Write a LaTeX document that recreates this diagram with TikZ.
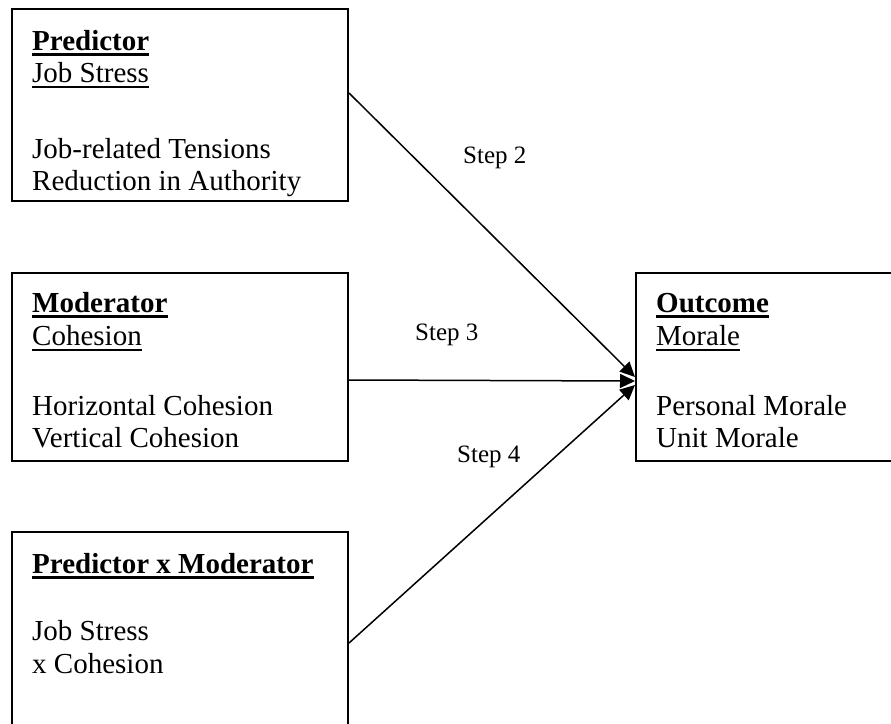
\documentclass[tikz,border=0pt]{standalone}
\usepackage{fontspec}
\setmainfont{Liberation Serif}
\usetikzlibrary{arrows.meta}
\tikzset{
  box/.style={draw, line width=2pt, rectangle, inner sep=0pt, anchor=north west},
  txt/.style={anchor=base west, inner sep=0pt, font=\fontsize{29}{33}\selectfont},
  hd/.style={txt, font=\fontsize{29}{33}\selectfont\bfseries},
  steplbl/.style={anchor=base west, inner sep=0pt, font=\fontsize{25}{29}\selectfont},
  ul/.style={line width=2pt},
  ulb/.style={line width=3pt},
  conn/.style={line width=1.5pt, -{Triangle[length=15pt,width=14pt]}}
}
\begin{document}
\begin{tikzpicture}[x=1pt,y=-1pt]
\useasboundingbox (0,0) rectangle (891,723);
\clip (0,0) rectangle (891,723);
\fill[white] (0,0) rectangle (891,723);
% boxes
\node[box, minimum width=336pt, minimum height=192pt] (b1) at (11,8) {};
\node[box, minimum width=336pt, minimum height=188pt] (b2) at (11,272) {};
\node[box, minimum width=336pt, minimum height=220pt] (b3) at (11,531) {};
\node[box, minimum width=280pt, minimum height=188pt] (b4) at (635,272) {};
% box 1 text
\node[hd] (p1) at (32,50) {Predictor};
\node[txt] (p2) at (32,82) {Job Stress};
\node[txt] (p3) at (32,158) {Job-related Tensions};
\node[txt] (p4) at (32,190) {Reduction in Authority};
\draw[ulb] ([yshift=-4pt]p1.base west) -- ([yshift=-4pt]p1.base east);
\draw[ul] ([yshift=-5pt]p2.base west) -- ([yshift=-5pt]p2.base east);
% box 2 text
\node[hd] (m1) at (32,312) {Moderator};
\node[txt] (m2) at (32,345) {Cohesion};
\node[txt] (m3) at (32,415) {Horizontal Cohesion};
\node[txt] (m4) at (32,447) {Vertical Cohesion};
\draw[ulb] ([yshift=-4pt]m1.base west) -- ([yshift=-4pt]m1.base east);
\draw[ul] ([yshift=-5pt]m2.base west) -- ([yshift=-5pt]m2.base east);
% box 3 text
\node[hd] (x1) at (32,573) {Predictor x Moderator};
\node[txt] (x2) at (32,640) {Job Stress};
\node[txt] (x3) at (32,673) {x Cohesion};
\draw[ulb] ([yshift=-4pt]x1.base west) -- ([yshift=-4pt]x1.base east);
% box 4 text
\node[hd] (o1) at (656,312) {Outcome};
\node[txt] (o2) at (656,345) {Morale};
\node[txt] (o3) at (656,415) {Personal Morale};
\node[txt] (o4) at (656,447) {Unit Morale};
\draw[ulb] ([yshift=-4pt]o1.base west) -- ([yshift=-4pt]o1.base east);
\draw[ul] ([yshift=-5pt]o2.base west) -- ([yshift=-5pt]o2.base east);
% step labels
\node[steplbl] (s2) at (463,163) {Step 2};
\node[steplbl] (s3) at (415,340) {Step 3};
\node[steplbl] (s4) at (457,462) {Step 4};
% connectors
\draw[conn] ([yshift=-85pt]b1.north east) -- ([yshift=-10pt]b4.west);
\draw[conn] ([yshift=-108pt]b2.north east) -- ([yshift=-14pt]b4.west);
\draw[conn] ([yshift=-112pt]b3.north east) -- ([yshift=-18pt]b4.west);
\end{tikzpicture}
\end{document}
